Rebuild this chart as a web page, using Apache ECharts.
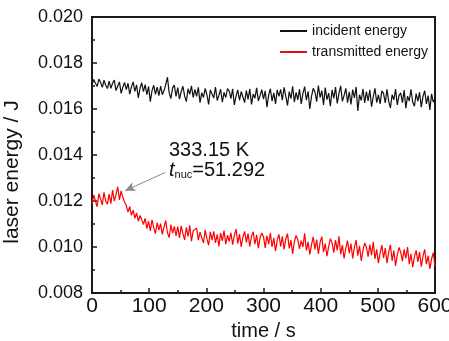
<!DOCTYPE html>
<html><head><meta charset="utf-8">
<script src="https://cdn.jsdelivr.net/npm/echarts@6/dist/echarts.min.js"></script>
<style>html,body{margin:0;padding:0;background:#fff}#c{width:449px;height:341px}</style>
</head><body><div id="c"></div>
<script>
// sampling step of the time axis (s)
var timeStep = 3;
var xTicks = [0, 100, 200, 300, 400, 500, 600];
var yTicks = ['0.008', '0.010', '0.012', '0.014', '0.016', '0.018', '0.020'];
var seriesNames = ['incident energy', 'transmitted energy'];
var xName = 'time / s';
var yName = 'laser energy / J';
// incident energy (J), one value every 3 s from 0 to 600 s
var incident = [
0.01705,0.01728,0.01712,0.01698,0.01730,0.01716,0.01694,0.01725,0.01703,0.01689,
0.01721,0.01690,0.01712,0.01726,0.01680,0.01700,0.01718,0.01668,0.01696,0.01715,
0.01684,0.01712,0.01665,0.01696,0.01718,0.01677,0.01705,0.01648,0.01690,0.01714,
0.01676,0.01706,0.01662,0.01698,0.01632,0.01680,0.01703,0.01664,0.01695,0.01658,
0.01699,0.01662,0.01680,0.01706,0.01738,0.01670,0.01645,0.01692,0.01704,0.01655,
0.01693,0.01643,0.01675,0.01699,0.01657,0.01632,0.01688,0.01664,0.01701,0.01650,
0.01685,0.01655,0.01694,0.01628,0.01671,0.01650,0.01690,0.01662,0.01620,0.01683,
0.01680,0.01648,0.01695,0.01637,0.01660,0.01686,0.01630,0.01672,0.01650,0.01689,
0.01678,0.01645,0.01688,0.01618,0.01657,0.01683,0.01638,0.01676,0.01652,0.01628,
0.01680,0.01642,0.01688,0.01620,0.01665,0.01647,0.01692,0.01635,0.01658,0.01684,
0.01643,0.01679,0.01608,0.01660,0.01688,0.01634,0.01670,0.01622,0.01683,0.01655,
0.01685,0.01638,0.01694,0.01656,0.01615,0.01676,0.01645,0.01699,0.01630,0.01672,
0.01640,0.01686,0.01622,0.01668,0.01697,0.01638,0.01677,0.01600,0.01655,0.01690,
0.01674,0.01632,0.01702,0.01650,0.01680,0.01618,0.01693,0.01641,0.01669,0.01612,
0.01683,0.01646,0.01695,0.01624,0.01668,0.01701,0.01633,0.01659,0.01690,0.01628,
0.01675,0.01620,0.01684,0.01648,0.01696,0.01592,0.01662,0.01637,0.01688,0.01626,
0.01676,0.01635,0.01683,0.01610,0.01654,0.01690,0.01628,0.01661,0.01622,0.01679,
0.01668,0.01626,0.01685,0.01633,0.01605,0.01662,0.01640,0.01687,0.01618,0.01658,
0.01670,0.01628,0.01682,0.01604,0.01656,0.01635,0.01686,0.01630,0.01612,0.01667,
0.01634,0.01673,0.01608,0.01655,0.01680,0.01622,0.01658,0.01596,0.01666,0.01630,
0.01645];
// transmitted energy (J), one value every 3 s from 0 to 600 s
var transmitted = [
0.01188,0.01226,0.01201,0.01175,0.01232,0.01210,0.01183,0.01238,0.01199,0.01186,
0.01230,0.01188,0.01247,0.01200,0.01228,0.01262,0.01205,0.01244,0.01215,0.01196,
0.01180,0.01152,0.01176,0.01138,0.01160,0.01125,0.01148,0.01112,0.01137,0.01120,
0.01098,0.01125,0.01080,0.01112,0.01070,0.01118,0.01085,0.01058,0.01106,0.01074,
0.01102,0.01055,0.01088,0.01115,0.01062,0.01041,0.01097,0.01060,0.01090,0.01048,
0.01089,0.01040,0.01092,0.01058,0.01031,0.01085,0.01046,0.01094,0.01025,0.01070,
0.01068,0.01082,0.01030,0.01065,0.01040,0.01018,0.01074,0.01036,0.01008,0.01066,
0.01030,0.01068,0.01018,0.01055,0.01002,0.01060,0.01027,0.01071,0.01012,0.01052,
0.01024,0.01062,0.01010,0.01050,0.01078,0.01015,0.01056,0.01000,0.01043,0.01068,
0.01020,0.01058,0.01002,0.01047,0.01066,0.01012,0.01053,0.00995,0.01040,0.01061,
0.01045,0.00996,0.01050,0.01012,0.01062,0.01000,0.01040,0.00982,0.01031,0.01055,
0.01002,0.01046,0.00990,0.01035,0.01058,0.00994,0.01030,0.00970,0.01024,0.01050,
0.01032,0.00992,0.01028,0.01000,0.01060,0.00985,0.01022,0.00968,0.01010,0.01044,
0.00990,0.01032,0.00970,0.01020,0.01045,0.00978,0.01015,0.00960,0.01002,0.01036,
0.01018,0.00975,0.01030,0.00985,0.01046,0.00968,0.01008,0.00950,0.00995,0.01028,
0.00972,0.01015,0.00950,0.00998,0.01030,0.00962,0.01005,0.00940,0.00985,0.01018,
0.00998,0.00958,0.01010,0.00965,0.01022,0.00948,0.00990,0.00930,0.00975,0.01008,
0.00952,0.00995,0.00930,0.00978,0.01010,0.00940,0.00985,0.00918,0.00965,0.00998,
0.00978,0.00938,0.00990,0.00950,0.01000,0.00925,0.00970,0.00912,0.00958,0.00985,
0.00935,0.00978,0.00915,0.00960,0.00990,0.00925,0.00962,0.00905,0.00948,0.00975,
0.00915];
// annotation
var annoTemp = '333.15 K';
var annoTnuc = '51.292';
var arrowFrom = [128, 0.01324];
var arrowTo = [58, 0.01245];

function pairs(arr){ return arr.map(function(v,i){ return [i*timeStep, v]; }); }
var FONT = "'Liberation Sans',Arial,sans-serif";
var chart = echarts.init(document.getElementById('c'), null, {renderer:'canvas'});
var axisCommon = {
  axisLine:{show:true,lineStyle:{color:'#1a1a1a',width:2}},
  axisTick:{show:true,inside:true,length:5,lineStyle:{color:'#1a1a1a',width:1.5}},
  minorTick:{show:true,splitNumber:2,length:3,lineStyle:{color:'#1a1a1a',width:1.5}},
  splitLine:{show:false}
};
chart.setOption({
  animation:false,
  backgroundColor:'#fff',
  grid:{left:92,right:14,top:17,bottom:48,show:true,borderColor:'#1a1a1a',borderWidth:2,
        containLabel:false,outerBoundsMode:'none'},
  legend:{
    data:seriesNames, right:21, top:24, orient:'vertical', itemGap:7,
    itemWidth:27, itemHeight:2, icon:'rect',
    textStyle:{fontFamily:FONT,fontSize:14,color:'#111'}, padding:0
  },
  xAxis:[Object.assign({},axisCommon,{
    type:'value', min:xTicks[0], max:xTicks[xTicks.length-1], interval:100,
    name:xName, nameLocation:'middle', nameGap:27,
    nameTextStyle:{fontFamily:FONT,fontSize:20,color:'#111'},
    axisLabel:{margin:3,fontFamily:FONT,fontSize:21,color:'#111'}
  })],
  yAxis:[Object.assign({},axisCommon,{
    type:'value', min:+yTicks[0], max:+yTicks[yTicks.length-1], interval:0.002,
    axisLabel:{margin:9,fontFamily:FONT,fontSize:18,color:'#111',
      formatter:function(v){ return v.toFixed(3); }}
  })],
  series:[
    {name:seriesNames[0],type:'line',data:pairs(incident),showSymbol:false,
     lineStyle:{color:'#111',width:1.2},itemStyle:{color:'#111'}},
    {name:seriesNames[1],type:'line',data:pairs(transmitted),showSymbol:false,
     lineStyle:{color:'#ff0000',width:1.2},itemStyle:{color:'#e0101a'},
     markLine:{silent:true,symbol:['none','arrow'],symbolSize:[7,10],
       lineStyle:{color:'#888',width:1,type:'solid'},label:{show:false},
       data:[[{coord:arrowFrom},{coord:arrowTo}]]}}
  ],
  graphic:[
    {type:'text',x:12,y:172,rotation:Math.PI/2,
     style:{text:yName,font:"21px "+FONT,fill:'#111',textAlign:'center',textVerticalAlign:'middle'}},
    {type:'text',left:169,top:140,style:{text:annoTemp,font:"20px "+FONT,fill:'#111'}},
    {type:'text',left:169,top:160,style:{
      text:'{t|t}{s|nuc}{n|='+annoTnuc+'}',
      rich:{t:{fontFamily:FONT,fontSize:20,fontStyle:'italic',fill:'#111',color:'#111'},
            s:{fontFamily:FONT,fontSize:11,fill:'#111',color:'#111',verticalAlign:'bottom',padding:[8,0,0,0]},
            n:{fontFamily:FONT,fontSize:20,fill:'#111',color:'#111'}}}}
  ]
});
</script></body></html>
